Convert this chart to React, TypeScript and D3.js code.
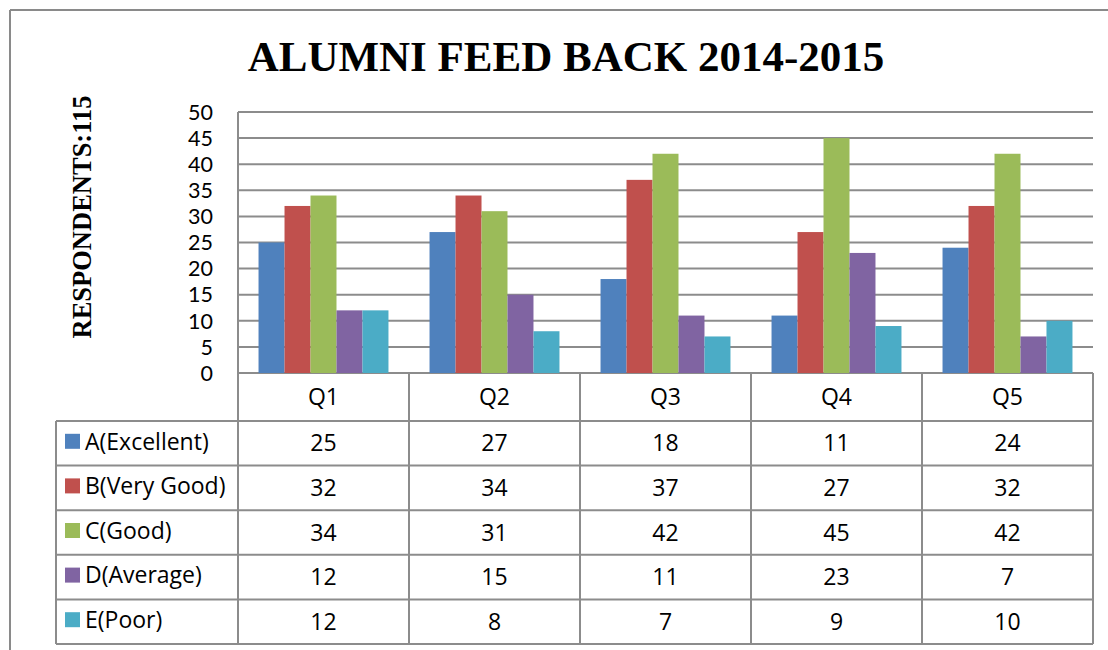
import React from "react";
import * as d3 from "d3";

const categories = ["Q1", "Q2", "Q3", "Q4", "Q5"];
const seriesNames = ["A(Excellent)", "B(Very Good)", "C(Good)", "D(Average)", "E(Poor)"];
const excellent = [25, 27, 18, 11, 24];
const veryGood = [32, 34, 37, 27, 32];
const good = [34, 31, 42, 45, 42];
const average = [12, 15, 11, 23, 7];
const poor = [12, 8, 7, 9, 10];
const yTicks = [0, 5, 10, 15, 20, 25, 30, 35, 40, 45, 50];
const colors = ["#4F81BD", "#C0504D", "#9BBB59", "#8064A2", "#4BACC6"];

const seriesValues = [excellent, veryGood, good, average, poor];

export default function App() {
  const W = 1108, H = 650;
  const left = 238, right = 1093, top = 112, bottom = 373;
  const rowH = 44.6;
  const headerBottom = 421;
  const tableLeft = 56;
  const font = "'Open Sans', 'Noto Sans', sans-serif";
  const tickFont = "Lato, 'Open Sans', sans-serif";
  const serif = "'Liberation Serif', 'Times New Roman', serif";
  const grid = "#8c8c8c";
  const fs = 23;

  const x = d3.scaleBand().domain(categories).range([left, right]).paddingInner(0).paddingOuter(0);
  const inner = d3.scaleBand().domain(seriesNames).range([0, x.bandwidth()]).paddingInner(0).paddingOuter(0.79);
  const y = d3.scaleLinear().domain([0, 50]).range([bottom, top]);

  const rowsY = seriesNames.map((_, i) => headerBottom + i * rowH);
  const tableBottom = headerBottom + seriesNames.length * rowH;

  return (
    <svg width={W} height={H} style={{ position: "absolute", left: 0, top: 0, background: "#fff" }}>
      <rect x={0} y={0} width={W} height={H} fill="#fff" />
      {/* outer frame */}
      <line x1={10} y1={10} x2={W} y2={10} stroke="#8a8a8a" strokeWidth={2} />
      <line x1={10} y1={10} x2={10} y2={H} stroke="#8a8a8a" strokeWidth={2} />

      <text x={566} y={71} textAnchor="middle" fontFamily={serif} fontWeight="bold" fontSize={43} fill="#000">
        ALUMNI FEED BACK 2014-2015
      </text>
      <text transform={`translate(91,217) rotate(-90)`} textAnchor="middle" fontFamily={serif} fontWeight="bold" fontSize={26.5} fill="#000">
        RESPONDENTS:115
      </text>

      {/* gridlines */}
      {yTicks.map((t) => (
        <line key={t} x1={left} x2={right} y1={y(t)} y2={y(t)} stroke={grid} strokeWidth={2} />
      ))}
      {yTicks.map((t) => (
        <text key={"l" + t} x={213} y={y(t)} dy="0.36em" textAnchor="end" fontFamily={tickFont} fontSize={21.5} fill="#000">
          {t}
        </text>
      ))}

      {/* bars */}
      {seriesValues.map((vals, si) =>
        vals.map((v, ci) => (
          <rect
            key={si + "-" + ci}
            x={(x(categories[ci]) as number) + (inner(seriesNames[si]) as number)}
            y={y(v)}
            width={inner.bandwidth()}
            height={y(0) - y(v)}
            fill={colors[si]}
          />
        ))
      )}

      {/* axis line */}
      <line x1={left} x2={left} y1={top} y2={tableBottom} stroke={grid} strokeWidth={2} />

      {/* table */}
      <g>
        {categories.map((c) => (
          <line key={"v" + c} x1={(x(c) as number) + x.bandwidth()} x2={(x(c) as number) + x.bandwidth()} y1={bottom} y2={tableBottom} stroke={grid} strokeWidth={2} />
        ))}
        {[headerBottom, ...rowsY.map((r) => r + rowH)].map((yy, i) => (
          <line key={"h" + i} x1={tableLeft} x2={right} y1={yy} y2={yy} stroke={grid} strokeWidth={2} />
        ))}
        <line x1={tableLeft} x2={tableLeft} y1={headerBottom} y2={tableBottom} stroke={grid} strokeWidth={2} />
        {categories.map((c) => (
          <text key={"c" + c} x={(x(c) as number) + x.bandwidth() / 2} y={(bottom + headerBottom) / 2} dy="0.35em" textAnchor="middle" fontFamily={font} fontSize={fs} fill="#000">
            {c}
          </text>
        ))}
        {seriesNames.map((s, si) => (
          <g key={"r" + s}>
            <rect x={65} y={rowsY[si] + rowH / 2 - 9.5} width={15} height={15} fill={colors[si]} />
            <text x={85} y={rowsY[si] + rowH / 2} dy="0.27em" fontFamily={font} fontSize={fs} fill="#000">
              {s}
            </text>
            {seriesValues[si].map((v, ci) => (
              <text key={ci} x={(x(categories[ci]) as number) + x.bandwidth() / 2} y={rowsY[si] + rowH / 2} dy="0.35em" textAnchor="middle" fontFamily={font} fontSize={fs} fill="#000">
                {v}
              </text>
            ))}
          </g>
        ))}
      </g>
    </svg>
  );
}
